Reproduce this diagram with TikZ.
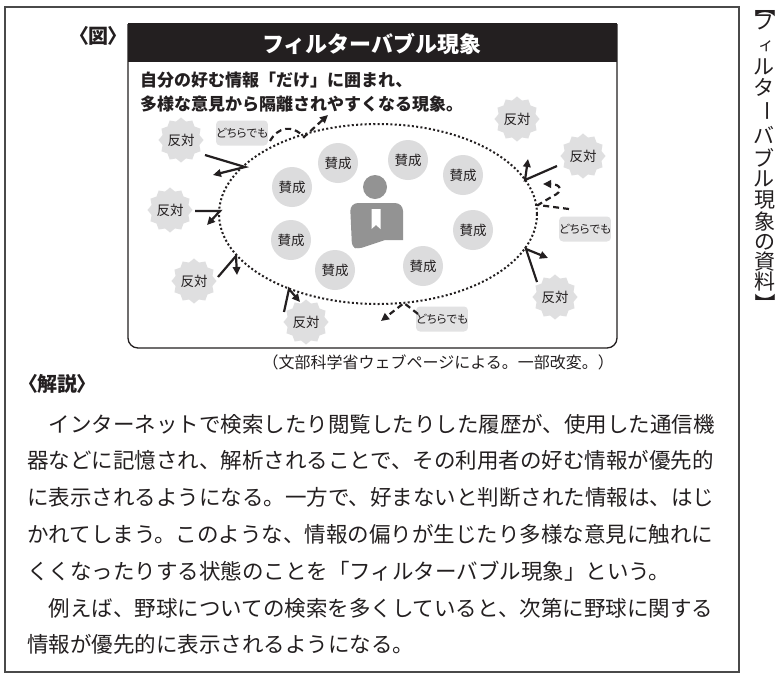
\documentclass[tikz,border=0pt]{standalone}
\usepackage{graphicx}
\usepackage{fontspec}
\setmainfont{Noto Sans CJK JP}
\newfontfamily\jpp[RawFeature=+palt]{Noto Sans CJK JP}
\usetikzlibrary{shapes.geometric,arrows.meta}
\definecolor{hdr}{HTML}{231F20}
\definecolor{sanfill}{HTML}{DCDCDD}
\definecolor{hanfill}{HTML}{DFDFE0}
\definecolor{dfill}{HTML}{E2E2E3}
\definecolor{persongray}{HTML}{939393}
\definecolor{framegray}{HTML}{4A4A4A}
\definecolor{ink}{HTML}{231F20}
\tikzset{
  san/.style={circle, fill=sanfill, minimum size=40pt, inner sep=0pt, text=ink, font=\fontsize{13.5}{13.5}\selectfont},
  han/.style={star, star points=12, star point ratio=1.18, fill=hanfill, minimum size=45pt, inner sep=0pt, text=ink, font=\fontsize{13.5}{13.5}\selectfont},
  dochi/.style={rounded corners=4pt, fill=dfill, minimum width=45pt, minimum height=25pt, inner sep=0pt, text=ink, font=\jpp\fontsize{11.5}{11.5}\selectfont},
  bubble/.style={ellipse, draw=ink, line width=2pt, dash pattern=on 2pt off 2.3pt, minimum width=318pt, minimum height=180pt, inner sep=0pt},
  bounce/.style={draw=ink, line width=2.2pt, line join=miter, -{Triangle[length=8pt,width=7.5pt]}},
  dbounce/.style={draw=ink, line width=2.2pt, dash pattern=on 6pt off 4pt, -{Triangle[length=8pt,width=7.5pt]}},
  body/.style={anchor=west, inner sep=0pt, text=ink, font=\fontsize{21.5}{21.5}\selectfont},
  vch/.style={inner sep=0pt, text=ink, font=\fontsize{21}{21}\selectfont},
}
\begin{document}
\begin{tikzpicture}[x=1pt,y=-1pt]
\useasboundingbox (0,0) rectangle (784,678);
\fill[white] (0,0) rectangle (784,678);
% outer frame
\draw[framegray, line width=1.2pt] (5,7) rectangle (739,672);
% figure box
\fill[hdr] (128,24) rectangle (617,62);
\draw[ink, line width=1.3pt, rounded corners=10pt] (128,24) -- (128,348) -- (617,348) -- (617,24);
\draw[ink, line width=1.3pt] (128,24) -- (617,24);
\node (title) at (372,44) [inner sep=0pt, text=white, font=\bfseries\fontsize{22}{22}\selectfont] {フィルターバブル現象};
\node (sub1) at (140,80) [anchor=west, inner sep=0pt, text=ink, font=\bfseries\fontsize{17}{17}\selectfont] {自分の好む情報「だけ」に囲まれ、};
\node (sub2) at (140,104) [anchor=west, inner sep=0pt, text=ink, font=\bfseries\fontsize{17}{17}\selectfont] {多様な意見から隔離されやすくなる現象。};
\node (zu) at (78,36) [anchor=west, inner sep=0pt, text=ink, font=\jpp\bfseries\fontsize{20}{20}\selectfont] {〈図〉};
% bubble
\node (bub) at (378,214) [bubble] {};
% person
\fill[persongray] (375,187) circle (12);
\fill[persongray] (352,247) [rounded corners=8pt] -- (350,203) -- (403,203) [sharp corners] -- (403,240) -- (385,240) [rounded corners=4pt] -- (358,249) -- cycle;
\fill[white] (371.5,209) -- (380.5,209) -- (380.5,229) -- (376,225) -- (371.5,229) -- cycle;
% agree circles
\node (s1) at (338,163) [san] {賛成};
\node (s2) at (408,160) [san] {賛成};
\node (s3) at (463,175) [san] {賛成};
\node (s4) at (292,187) [san] {賛成};
\node (s5) at (473,230) [san] {賛成};
\node (s6) at (291,240) [san] {賛成};
\node (s7) at (335,270) [san] {賛成};
\node (s8) at (423,266) [san] {賛成};
% oppose badges
\node (ha) at (181,140) [han] {反対};
\node (hb) at (170,210) [han] {反対};
\node (hc) at (194,281) [han] {反対};
\node (hd) at (306,322) [han] {反対};
\node (he) at (517,119) [han] {反対};
\node (hf) at (583,156) [han] {反対};
\node (hg) at (555,297) [han] {反対};
% either boxes
\node (da) at (242,133) [dochi] {どちらでも};
\node (db) at (585,229) [dochi] {どちらでも};
\node (dc) at (442,319) [dochi] {どちらでも};
% bounce points
\coordinate (a1) at (205,155); \coordinate (a2) at (245,167); \coordinate (a3) at (213,175);
\coordinate (b1) at (195,211); \coordinate (b2) at (220,211); \coordinate (b3) at (207,225);
\coordinate (c1) at (218,277); \coordinate (c2) at (236,256); \coordinate (c3) at (237,275);
\coordinate (d1) at (284,312); \coordinate (d2) at (289,289); \coordinate (d3) at (300,302);
\coordinate (f1) at (557,166); \coordinate (f2) at (525,180); \coordinate (f3) at (528,159);
\coordinate (g1) at (537,282); \coordinate (g2) at (526,249); \coordinate (g3) at (548,258);
\draw[bounce] (a1) -- (a2) -- (a3);
\draw[bounce] (b1) -- (b2) -- (b3);
\draw[bounce] (c1) -- (c2) -- (c3);
\draw[bounce] (d1) -- (d2) -- (d3);
\draw[bounce] (f1) -- (f2) -- (f3);
\draw[bounce] (g1) -- (g2) -- (g3);
% dashed bounces
\coordinate (p1) at (270,141); \coordinate (p2) at (304,137); \coordinate (p3) at (328,115);
\coordinate (pc1) at (278,127); \coordinate (pc2) at (292,124);
\draw[dbounce] (p1) .. controls (pc1) and (pc2) .. (p2) -- (p3);
\coordinate (q1) at (569,209); \coordinate (q2) at (538,205); \coordinate (q3) at (553,196);
\coordinate (qc1) at (563,192); \coordinate (qc2) at (562,184); \coordinate (q4) at (543,184);
\draw[dbounce] (q1) -- (q2) -- (q3) .. controls (qc1) and (qc2) .. (q4);
\coordinate (r1) at (418,314); \coordinate (r2) at (404,303); \coordinate (r3) at (381,321);
\draw[dbounce] (r1) -- (r2) -- (r3);
% source
\node (src) at (614,362) [anchor=east, inner sep=0pt, text=ink, font=\fontsize{16}{16}\selectfont] {（文部科学省ウェブページによる。一部改変。）};
% explanation
\node (kai) at (27,384) [anchor=west, inner sep=0pt, text=ink, font=\jpp\bfseries\fontsize{20}{20}\selectfont] {〈解説〉};
\node (l1) at (27,424) [body] {　インターネットで検索したり閲覧したりした履歴が、使用した通信機};
\node (l2) at (27,460.8) [body] {器などに記憶され、解析されることで、その利用者の好む情報が優先的};
\node (l3) at (27,497.6) [body] {に表示されるようになる。一方で、好まないと判断された情報は、はじ};
\node (l4) at (27,534.4) [body] {かれてしまう。このような、情報の偏りが生じたり多様な意見に触れに};
\node (l5) at (27,571.2) [body] {くくなったりする状態のことを「フィルターバブル現象」という。};
\node (l6) at (27,608) [body] {　例えば、野球についての検索を多くしていると、次第に野球に関する};
\node (l7) at (27,644.8) [body] {情報が優先的に表示されるようになる。};
% vertical label
\node (v0) at (765,6.5) [vch, anchor=north] {\rotatebox{-90}{\makebox[0.5em][r]{【}}};
\node (v1) at (764,22.5) [vch] {フ};
\node (v2) at (766,46) [vch, font=\fontsize{16}{16}\selectfont] {ィ};
\node (v3) at (764,66.5) [vch] {ル};
\node (v4) at (764,87) [vch] {タ};
\node (v5) at (764,111) [vch] {\rotatebox{-90}{ー}};
\node (v6) at (764,135) [vch] {バ};
\node (v7) at (764,158) [vch] {ブ};
\node (v8) at (764,179) [vch] {ル};
\node (v9) at (765,200.5) [vch] {現};
\node (v10) at (765,222) [vch] {象};
\node (v11) at (765,242.5) [vch] {の};
\node (v12) at (765,262) [vch] {資};
\node (v13) at (765,282) [vch] {料};
\node (v14) at (765,293) [vch, anchor=north] {\rotatebox{-90}{\makebox[0.5em][l]{】}}};
\end{tikzpicture}
\end{document}
